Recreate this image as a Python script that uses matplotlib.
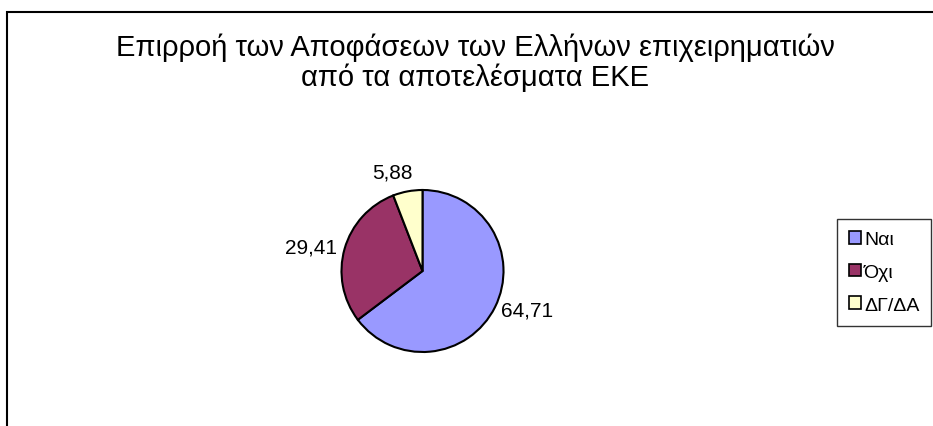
import matplotlib.pyplot as plt
import numpy as np
from matplotlib.patches import Rectangle

plt.rcParams['font.family'] = ['Liberation Sans', 'DejaVu Sans']

# Survey answers (%)
categories = ["Ναι", "Όχι", "ΔΓ/ΔΑ"]
shares = [64.71, 29.41, 5.88]
colors = ["#9999FF", "#993366", "#FFFFCC"]
title = "Επιρροή των Αποφάσεων των Ελλήνων επιχειρηματιών\nαπό τα αποτελέσματα ΕΚΕ"

W, H = 933, 427
fig = plt.figure(figsize=(W / 100, H / 100), dpi=100)

# outer chart-area frame (runs off the right and bottom edges)
fig.add_artist(Rectangle((7 / W, -0.1), 1.2, 1.1 - 12.5 / H,
                         transform=fig.transFigure, fill=False,
                         edgecolor="black", linewidth=1.5))

fig.text(475 / W, 1 - 63 / H, title, ha="center", va="center",
         fontsize=21, linespacing=1.05)

# pie placed so the radius-1 circle sits at a fixed spot
cx, cy, r = 422.5, 272, 81
ax = fig.add_axes([(cx - r) / W, (H - cy - r) / H, 2 * r / W, 2 * r / H])
wedges, _ = ax.pie(shares, colors=colors, startangle=90, counterclock=False,
                   wedgeprops=dict(edgecolor="black", linewidth=1.5))
ax.set_xlim(-1, 1)
ax.set_ylim(-1, 1)
ax.axis("off")

# value labels just outside each wedge (radial distance + small nudge in pt)
label_dist = [1.08, 1.10, 1.24]
label_nudge = [(0, 0), (0, 0), (6, 0)]
for w, val, d, nudge in zip(wedges, shares, label_dist, label_nudge):
    ang = np.deg2rad((w.theta1 + w.theta2) / 2)
    x, y = d * np.cos(ang), d * np.sin(ang)
    ax.annotate(f"{val:.2f}".replace(".", ","), (x, y), xytext=nudge,
                textcoords="offset points", ha="left" if x > 0 else "right",
                va="center", fontsize=15, annotation_clip=False)

leg = fig.legend(wedges, categories, loc="upper left",
                 bbox_to_anchor=(837 / W, 1 - 220 / H), fontsize=14,
                 frameon=True, fancybox=False, edgecolor="black",
                 handlelength=0.62, handleheight=0.62, handletextpad=0.15,
                 labelspacing=0.8, borderpad=0.62, borderaxespad=0)
leg.get_frame().set_linewidth(1.0)
for h in leg.legend_handles:
    h.set_linewidth(1.2)

fig.savefig("out.png", dpi=100)
